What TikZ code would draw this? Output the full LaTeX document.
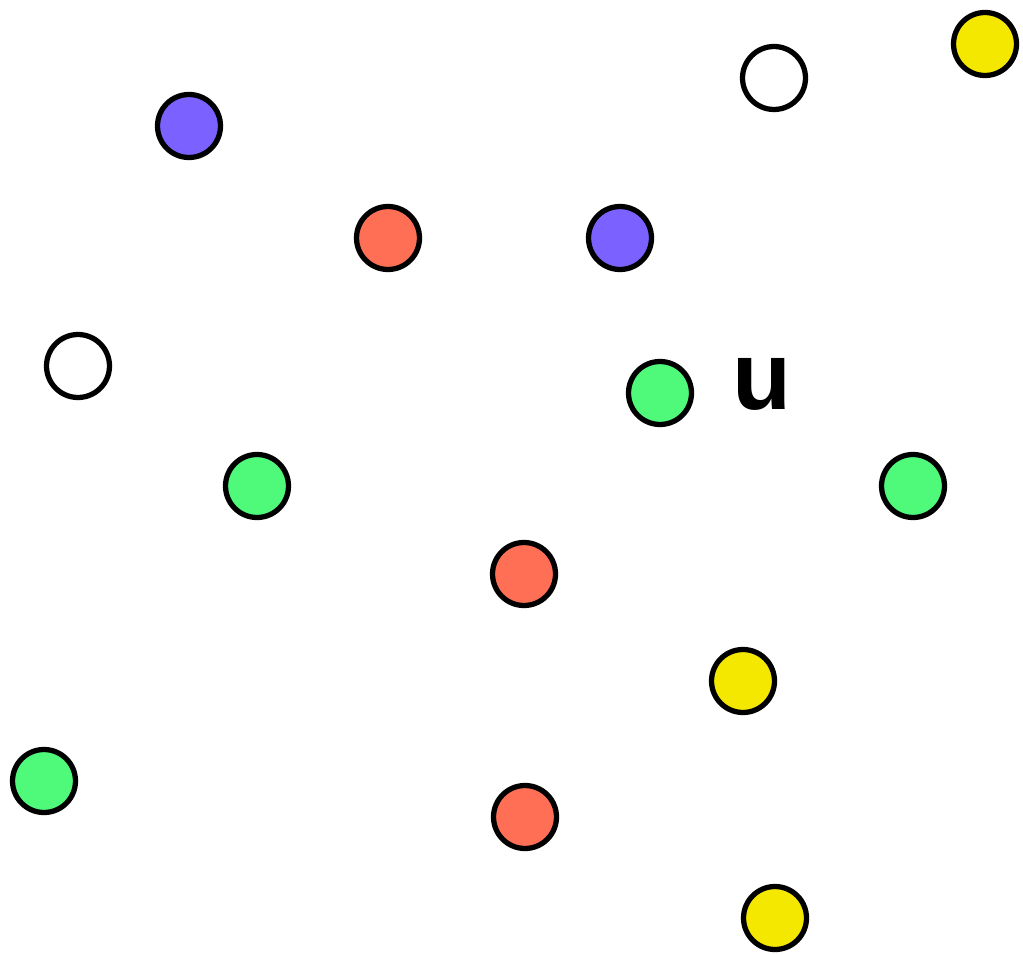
\documentclass[tikz,border=0pt]{standalone}
\usepackage{fontspec}
\setmainfont{Liberation Sans}
\usepackage{tikz}
\definecolor{dotpurple}{HTML}{7B61FF}
\definecolor{dotred}{HTML}{FF6F55}
\definecolor{dotyellow}{HTML}{F5E800}
\definecolor{dotgreen}{HTML}{4FFA7B}
\tikzset{
  dot/.style={circle,draw=black,line width=3pt,minimum size=1.26cm,inner sep=0pt},
}
\begin{document}
\begin{tikzpicture}[x=0.02cm,y=-0.02cm]
  \useasboundingbox (0,0) rectangle (1023,955);
  \node[dot,fill=dotpurple] (p1) at (189,126) {};
  \node[dot,fill=dotred] (r1) at (388,238) {};
  \node[dot,fill=dotpurple] (p2) at (620,238) {};
  \node[dot,fill=white] (w1) at (774,78) {};
  \node[dot,fill=dotyellow] (y1) at (985,44) {};
  \node[dot,fill=white] (w2) at (78,366) {};
  \node[dot,fill=dotgreen] (g1) at (660,393) {};
  \node[font=\fontsize{55}{60}\selectfont\bfseries] (u) at (762,384) {u};
  \node[dot,fill=dotgreen] (g2) at (257,486) {};
  \node[dot,fill=dotgreen] (g3) at (913,486) {};
  \node[dot,fill=dotred] (r2) at (524,574) {};
  \node[dot,fill=dotyellow] (y2) at (743,681) {};
  \node[dot,fill=dotgreen] (g4) at (44,781) {};
  \node[dot,fill=dotred] (r3) at (525,817) {};
  \node[dot,fill=dotyellow] (y3) at (775,918) {};
\end{tikzpicture}
\end{document}
